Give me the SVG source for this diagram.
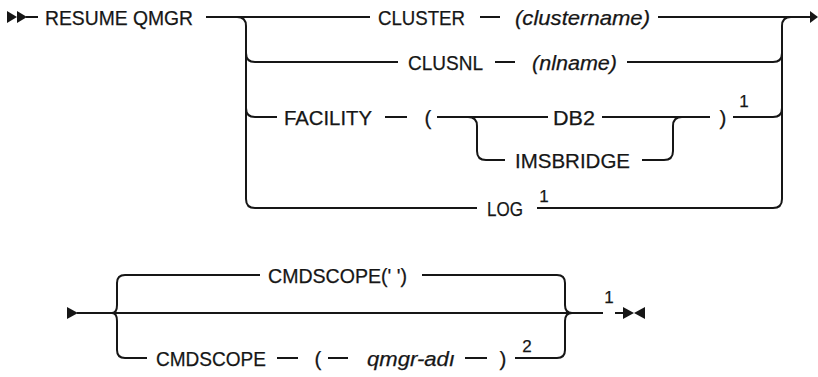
<svg xmlns="http://www.w3.org/2000/svg" width="818" height="377" viewBox="0 0 818 377">
<style>
text{font-family:"Liberation Sans",Arial,sans-serif;font-size:20.5px;fill:#161616;text-anchor:middle;stroke:#161616;stroke-width:0.25}
.it{font-style:italic}
.sup{font-size:17px}
.ln{fill:none;stroke:#161616;stroke-width:2}
.mk{fill:#161616}
</style>
<rect width="818" height="377" fill="#fff"/>
<g id="connectors">
  <polygon class="mk" points="7,11 7,23 17,17"/>
  <polygon class="mk" points="17,11 17,23 27,17"/>
  <path class="ln" d="M26,17H38"/>
  <path class="ln" d="M206,17H370 M480,17H500 M658,17H810"/>
  <polygon class="mk" points="810,11 818,17 810,23"/>
  <path class="ln" d="M237,17Q246,17 246,26V199Q246,208 255,208H477 M246,53Q246,62 255,62H398 M246,108Q246,117 255,117H277"/>
  <path class="ln" d="M495,62H515 M627,62H773Q782,62 782,53 M791,17Q782,17 782,26V199Q782,208 773,208H537"/>
  <path class="ln" d="M385,117H407 M437,117H548 M468,117Q477,117 477,126V151Q477,160 486,160H505 M602,117H710 M642,160H664Q673,160 673,151V126Q673,117 682,117 M733,117H773Q782,117 782,108"/>
  <polygon class="mk" points="67,307 67,319 78,313"/>
  <path class="ln" d="M77,313H572 M125,275Q117,275 117,283V305Q117,313 112,313 M112,313Q117,313 117,321V350Q117,358 125,358H147"/>
  <path class="ln" d="M125,275H260 M422,275H557Q565,275 565,283V305Q565,313 572,313 M572,313Q565,313 565,321V350Q565,358 557,358H515"/>
  <path class="ln" d="M277,358H298 M328,358H348 M465,358H487 M572,313H603 M615,313H625"/>
  <polygon class="mk" points="623,307 623,319 634,313"/>
  <polygon class="mk" points="645,307 645,319 634,313"/>
</g>
<g id="n-resume"><text x="119" y="24.5" textLength="148" lengthAdjust="spacingAndGlyphs">RESUME QMGR</text></g>
<g id="n-cluster"><text x="421.5" y="24.5" textLength="87" lengthAdjust="spacingAndGlyphs">CLUSTER</text></g>
<g id="n-clustername"><text class="it" x="582.5" y="24.5" textLength="135" lengthAdjust="spacingAndGlyphs">(clustername)</text></g>
<g id="n-clusnl"><text x="445.5" y="69.5" textLength="75" lengthAdjust="spacingAndGlyphs">CLUSNL</text></g>
<g id="n-nlname"><text class="it" x="574.5" y="69.5" textLength="85" lengthAdjust="spacingAndGlyphs">(nlname)</text></g>
<g id="n-facility"><text x="328" y="124.5" textLength="88" lengthAdjust="spacingAndGlyphs">FACILITY</text></g>
<g id="n-lparen1"><text x="428" y="124.5">(</text></g>
<g id="n-db2"><text x="574" y="124.5" textLength="42" lengthAdjust="spacingAndGlyphs">DB2</text></g>
<g id="n-imsbridge"><text x="572.5" y="167.5" textLength="115" lengthAdjust="spacingAndGlyphs">IMSBRIDGE</text></g>
<g id="n-rparen1"><text x="723" y="124.5">)</text></g>
<g id="n-note1a"><text class="sup" x="744" y="107">1</text></g>
<g id="n-log"><text x="505" y="215.5" textLength="36" lengthAdjust="spacingAndGlyphs">LOG</text></g>
<g id="n-note1b"><text class="sup" x="544" y="202">1</text></g>
<g id="n-cmdscope-default"><text x="337.5" y="282.5" textLength="139" lengthAdjust="spacingAndGlyphs">CMDSCOPE(' ')</text></g>
<g id="n-cmdscope"><text x="211" y="366" textLength="110" lengthAdjust="spacingAndGlyphs">CMDSCOPE</text></g>
<g id="n-lparen2"><text x="318" y="365.5">(</text></g>
<g id="n-qmgr"><text class="it" x="411" y="365.5" textLength="88" lengthAdjust="spacingAndGlyphs">qmgr-adı</text></g>
<g id="n-rparen2"><text x="503" y="365.5">)</text></g>
<g id="n-note2"><text class="sup" x="527" y="352">2</text></g>
<g id="n-note1c"><text class="sup" x="609" y="303">1</text></g>
</svg>
